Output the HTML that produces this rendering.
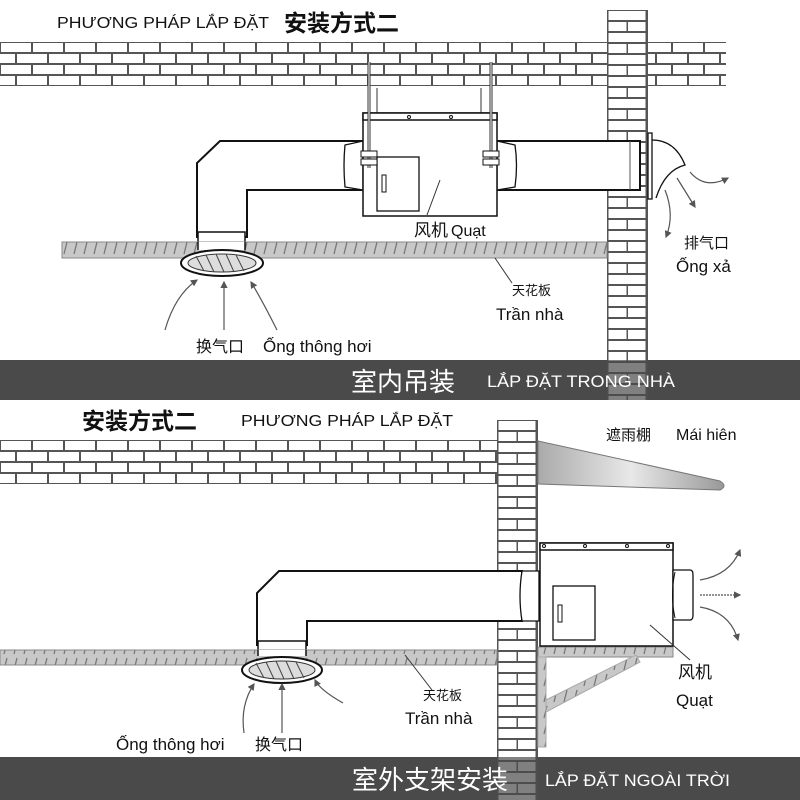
<!DOCTYPE html>
<html><head><meta charset="utf-8"><style>
html,body{margin:0;padding:0;background:#fff;}
svg{display:block;}
text{font-family:"Liberation Sans","Noto Sans CJK SC",sans-serif;fill:#111;}
</style></head><body>
<svg width="800" height="800" viewBox="0 0 800 800" xmlns="http://www.w3.org/2000/svg">
<defs>
<pattern id="brick" x="0" y="42" width="64" height="22" patternUnits="userSpaceOnUse">
<rect width="64" height="22" fill="#555"/>
<rect x="1" y="1" width="30" height="9" fill="#fff"/>
<rect x="33" y="1" width="30" height="9" fill="#fff"/>
<rect x="-15" y="12" width="30" height="9" fill="#fff"/>
<rect x="17" y="12" width="30" height="9" fill="#fff"/>
<rect x="49" y="12" width="30" height="9" fill="#fff"/>
</pattern>
<pattern id="brick2" x="0" y="440" width="64" height="22" patternUnits="userSpaceOnUse">
<rect width="64" height="22" fill="#555"/>
<rect x="1" y="1" width="30" height="9" fill="#fff"/>
<rect x="33" y="1" width="30" height="9" fill="#fff"/>
<rect x="-15" y="12" width="30" height="9" fill="#fff"/>
<rect x="17" y="12" width="30" height="9" fill="#fff"/>
<rect x="49" y="12" width="30" height="9" fill="#fff"/>
</pattern>
<pattern id="vbrick" x="607" y="10" width="40" height="22" patternUnits="userSpaceOnUse">
<rect width="40" height="22" fill="#555"/>
<rect x="1.5" y="1" width="37" height="9" fill="#fff"/>
<rect x="1.5" y="12" width="18" height="9" fill="#fff"/>
<rect x="21" y="12" width="17.5" height="9" fill="#fff"/>
</pattern>
<pattern id="vbrick2" x="497" y="420" width="40" height="22" patternUnits="userSpaceOnUse">
<rect width="40" height="22" fill="#555"/>
<rect x="1.5" y="1" width="37" height="9" fill="#fff"/>
<rect x="1.5" y="12" width="18" height="9" fill="#fff"/>
<rect x="21" y="12" width="17.5" height="9" fill="#fff"/>
</pattern>
<pattern id="hatch" width="10" height="16" patternUnits="userSpaceOnUse">
<rect width="10" height="16" fill="#c8c8c8"/>
<line x1="7" y1="2" x2="4" y2="14" stroke="#777" stroke-width="1.3"/>
</pattern>
<linearGradient id="awn" x1="0" y1="0" x2="1" y2="0">
<stop offset="0" stop-color="#aaa"/><stop offset="0.5" stop-color="#e8e8e8"/><stop offset="1" stop-color="#999"/>
</linearGradient>
<marker id="ar" markerWidth="6" markerHeight="6" refX="5" refY="3" orient="auto"><path d="M0,0 L6,3 L0,6 z" fill="#555"/></marker>
</defs>

<!-- ===== TOP PANEL ===== -->
<text x="57" y="28" font-size="16" textLength="212" lengthAdjust="spacingAndGlyphs">PHƯƠNG PHÁP LẮP ĐẶT</text>
<text x="284" y="31" font-size="23" font-weight="bold">安装方式二</text>
<rect x="0" y="42" width="726" height="44" fill="url(#brick)"/>
<rect x="607" y="10" width="41" height="390" fill="url(#vbrick)"/>

<line x1="377" y1="88" x2="377" y2="113" stroke="#999" stroke-width="2"/>
<line x1="481" y1="88" x2="481" y2="113" stroke="#999" stroke-width="2"/>

<path d="M197,237 L197,163 L220,141 L363,141 L363,190 L247,190 L247,237 Z" fill="#fff" stroke="#111" stroke-width="2"/>
<rect x="198" y="232" width="47" height="18" fill="#fff" stroke="#111" stroke-width="1.5"/>
<rect x="62" y="242" width="545" height="16" fill="url(#hatch)" stroke="#888"/>
<rect x="198" y="242" width="47" height="8" fill="#fff"/>
<line x1="198" y1="242" x2="198" y2="250" stroke="#111" stroke-width="1.5"/><line x1="245" y1="242" x2="245" y2="250" stroke="#111" stroke-width="1.5"/>
<ellipse cx="222" cy="263" rx="41" ry="13" fill="#fff" stroke="#111" stroke-width="2"/>
<ellipse cx="222" cy="263" rx="34" ry="9" fill="#ddd" stroke="#333"/>
<g stroke="#444" stroke-width="1"><line x1="196" y1="256" x2="204" y2="271"/><line x1="206" y1="255" x2="214" y2="272"/><line x1="216" y1="254" x2="224" y2="272"/><line x1="226" y1="254" x2="234" y2="272"/><line x1="236" y1="255" x2="244" y2="271"/></g>

<rect x="497" y="141" width="143" height="49" fill="#fff" stroke="#111" stroke-width="2"/>
<line x1="630" y1="141" x2="630" y2="190" stroke="#555"/>
<path d="M345,145 Q343,165 345,187 L363,190 L363,141 Z" fill="#fff" stroke="#111" stroke-width="1.3"/>
<path d="M497,141 L515,145 Q518,165 515,187 L497,190 Z" fill="#fff" stroke="#111" stroke-width="1.3"/>
<rect x="648" y="133" width="4" height="66" fill="#fff" stroke="#111" stroke-width="1.3"/>
<path d="M652,140 Q675,140 685,165 Q665,170 656,198" fill="none" stroke="#111" stroke-width="1.3"/>

<rect x="363" y="113" width="134" height="103" fill="#fff" stroke="#111" stroke-width="1.5"/>
<rect x="363" y="113" width="134" height="7" fill="#fff" stroke="#111" stroke-width="1.5"/>
<circle cx="409" cy="117" r="1.5" fill="none" stroke="#111"/><circle cx="451" cy="117" r="1.5" fill="none" stroke="#111"/>
<rect x="377" y="157" width="42" height="54" fill="#fff" stroke="#111" stroke-width="1.3"/>
<rect x="382" y="175" width="4" height="17" fill="#fff" stroke="#111"/>
<line x1="369" y1="62" x2="369" y2="168" stroke="#333" stroke-width="3"/>
<line x1="491" y1="62" x2="491" y2="168" stroke="#333" stroke-width="3"/>
<line x1="369" y1="62" x2="369" y2="168" stroke="#fff" stroke-width="1"/>
<line x1="491" y1="62" x2="491" y2="168" stroke="#fff" stroke-width="1"/>
<rect x="361" y="151" width="16" height="6" fill="#fff" stroke="#111"/><rect x="361" y="159" width="16" height="6" fill="#fff" stroke="#111"/>
<rect x="483" y="151" width="16" height="6" fill="#fff" stroke="#111"/><rect x="483" y="159" width="16" height="6" fill="#fff" stroke="#111"/>
<line x1="440" y1="180" x2="427" y2="215" stroke="#333"/>

<g fill="none" stroke="#555" stroke-width="1.2" marker-end="url(#ar)">
<path d="M165,330 Q175,295 197,280"/>
<path d="M224,330 L224,282"/>
<path d="M277,330 Q262,300 251,282"/>
<path d="M690,172 Q705,190 728,178"/>
<path d="M677,178 L695,207"/>
<path d="M665,190 Q675,215 666,237"/>
</g>
<line x1="495" y1="258" x2="512" y2="283" stroke="#333"/>

<text x="414" y="236" font-size="17" font-family="Noto Sans CJK SC">风机</text>
<text x="451" y="236" font-size="16">Quạt</text>
<text x="684" y="248" font-size="15" font-family="Noto Sans CJK SC">排气口</text>
<text x="676" y="272" font-size="17">Ống xả</text>
<text x="512" y="295" font-size="13" font-family="Noto Sans CJK SC">天花板</text>
<text x="496" y="320" font-size="17">Trần nhà</text>
<text x="196" y="352" font-size="16" font-family="Noto Sans CJK SC">换气口</text>
<text x="263" y="352" font-size="17">Ống thông hơi</text>

<rect x="0" y="360" width="800" height="40" fill="#4a4a4a"/>
<rect x="607" y="360" width="41" height="40" fill="url(#vbrick)" opacity="0.3"/>
<text x="351" y="391" font-size="26" font-family="Noto Sans CJK SC" style="fill:#fff">室内吊装</text>
<text x="487" y="387" font-size="17" textLength="188" lengthAdjust="spacingAndGlyphs" style="fill:#fff">LẮP ĐẶT TRONG NHÀ</text>

<!-- ===== BOTTOM PANEL ===== -->
<text x="82" y="429" font-size="23" font-weight="bold">安装方式二</text>
<text x="241" y="426" font-size="16" textLength="212" lengthAdjust="spacingAndGlyphs">PHƯƠNG PHÁP LẮP ĐẶT</text>
<rect x="0" y="440" width="497" height="44" fill="url(#brick2)"/>
<rect x="497" y="420" width="41" height="337" fill="url(#vbrick2)"/>
<path d="M538,441 L720,481 Q728,486 720,490 L538,484 Z" fill="url(#awn)" stroke="#777"/>
<text x="606" y="440" font-size="15" font-family="Noto Sans CJK SC">遮雨棚</text>
<text x="676" y="440" font-size="16">Mái hiên</text>

<path d="M257,645 L257,593 L279,571 L522,571 L522,621 L307,621 L307,645 Z" fill="#fff" stroke="#111" stroke-width="2"/>
<rect x="258" y="641" width="48" height="14" fill="#fff" stroke="#111" stroke-width="1.5"/>
<rect x="0" y="650" width="497" height="15" fill="url(#hatch)" stroke="#888"/>
<rect x="258" y="650" width="48" height="6" fill="#fff"/>
<line x1="258" y1="650" x2="258" y2="656" stroke="#111" stroke-width="1.5"/><line x1="306" y1="650" x2="306" y2="656" stroke="#111" stroke-width="1.5"/>
<ellipse cx="282" cy="670" rx="40" ry="13" fill="#fff" stroke="#111" stroke-width="2"/>
<ellipse cx="282" cy="670" rx="33" ry="9" fill="#ddd" stroke="#333"/>
<g stroke="#444" stroke-width="1"><line x1="256" y1="663" x2="264" y2="678"/><line x1="266" y1="662" x2="274" y2="679"/><line x1="276" y1="661" x2="284" y2="679"/><line x1="286" y1="661" x2="294" y2="679"/><line x1="296" y1="662" x2="304" y2="678"/></g>
<path d="M522,571 Q518,596 522,621 L539,621 L539,571 Z" fill="#fff" stroke="#111" stroke-width="1.3"/>

<rect x="538" y="647" width="135" height="10" fill="url(#hatch)" stroke="#888"/>
<rect x="538" y="657" width="8" height="90" fill="url(#hatch)" stroke="#aaa"/>
<path d="M546,700 L636,655 L640,662 L546,712 Z" fill="url(#hatch)" stroke="#aaa"/>

<rect x="540" y="543" width="133" height="103" fill="#fff" stroke="#111" stroke-width="1.5"/>
<rect x="540" y="543" width="133" height="7" fill="#fff" stroke="#111" stroke-width="1.5"/>
<circle cx="544" cy="546" r="1.5" fill="none" stroke="#111"/><circle cx="585" cy="546" r="1.5" fill="none" stroke="#111"/><circle cx="627" cy="546" r="1.5" fill="none" stroke="#111"/><circle cx="668" cy="546" r="1.5" fill="none" stroke="#111"/>
<rect x="553" y="586" width="42" height="54" fill="#fff" stroke="#111" stroke-width="1.3"/>
<rect x="558" y="605" width="4" height="17" fill="#fff" stroke="#111"/>
<path d="M673,570 L690,570 Q693,570 693,575 L693,615 Q693,620 690,620 L673,620 Z" fill="#fff" stroke="#111" stroke-width="1.3"/>
<path d="M675,572 Q670,595 675,618" fill="none" stroke="#111"/>
<line x1="650" y1="625" x2="690" y2="660" stroke="#333"/>

<g fill="none" stroke="#555" stroke-width="1.2" marker-end="url(#ar)">
<path d="M700,580 Q730,575 740,550"/>
<path d="M700,595 L740,595" stroke-dasharray="2,1"/>
<path d="M700,607 Q730,612 738,640"/>
<path d="M343,703 Q320,690 315,680"/>
<path d="M282,733 L282,684"/>
<path d="M244,733 Q240,705 254,684"/>
</g>
<line x1="405" y1="655" x2="432" y2="690" stroke="#333"/>

<text x="678" y="678" font-size="17" font-family="Noto Sans CJK SC">风机</text>
<text x="676" y="706" font-size="17">Quạt</text>
<text x="423" y="700" font-size="13" font-family="Noto Sans CJK SC">天花板</text>
<text x="405" y="724" font-size="17">Trần nhà</text>
<text x="116" y="750" font-size="17">Ống thông hơi</text>
<text x="255" y="750" font-size="16" font-family="Noto Sans CJK SC">换气口</text>

<rect x="0" y="757" width="800" height="43" fill="#4a4a4a"/>
<rect x="497" y="757" width="41" height="43" fill="url(#vbrick2)" opacity="0.3"/>
<text x="352" y="789" font-size="26" font-family="Noto Sans CJK SC" style="fill:#fff">室外支架安装</text>
<text x="545" y="786" font-size="17" textLength="185" lengthAdjust="spacingAndGlyphs" style="fill:#fff">LẮP ĐẶT NGOÀI TRỜI</text>
</svg>
</body></html>
